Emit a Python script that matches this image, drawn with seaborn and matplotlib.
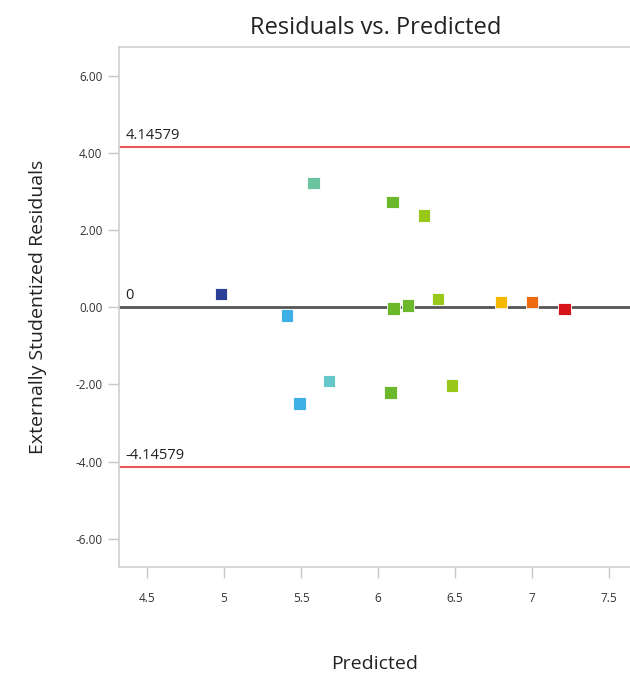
import matplotlib
matplotlib.use("Agg")
import matplotlib.pyplot as plt
import seaborn as sns
import pandas as pd

predicted = [4.98, 5.41, 5.49, 5.58, 5.68, 6.08, 6.095, 6.10, 6.195, 6.30, 6.39, 6.48, 6.80, 7.00, 7.21]
residuals = [0.35, -0.21, -2.49, 3.22, -1.91, -2.21, 2.73, -0.03, 0.05, 2.38, 0.22, -2.03, 0.13, 0.13, -0.05]
point_colors = ["#2B3F99", "#3FB0E6", "#3FB0E6", "#6CC3A0", "#66C8C8", "#6CB82C", "#6CB82C",
                "#6CB82C", "#6CB82C", "#99C71A", "#99C71A", "#99C71A", "#F5B800", "#EE6A10", "#D8141B"]
limit_value = 4.14579
y_ticks = [-6, -4, -2, 0, 2, 4, 6]
x_ticks = [4.5, 5, 5.5, 6, 6.5, 7, 7.5]

sns.set_style("white")
plt.rcParams['font.family'] = ['Open Sans', 'DejaVu Sans']

df = pd.DataFrame({"Predicted": predicted, "Residual": residuals,
                   "id": [str(i) for i in range(len(predicted))]})
palette = dict(zip(df["id"], point_colors))

fig = plt.figure(figsize=(6.3, 6.77), dpi=100)
ax = fig.add_axes([119/630, 1 - 567/677, 1 - 119/630, (567 - 47.5)/677])

ax.axhline(0, color="#555555", lw=2.0, zorder=1)
ax.axhline(limit_value, color="#E8595A", lw=1.5, zorder=1)
ax.axhline(-limit_value, color="#E8595A", lw=1.5, zorder=1)

sns.scatterplot(data=df, x="Predicted", y="Residual", hue="id", palette=palette,
                marker="s", s=80, edgecolor="white", linewidth=0.6, legend=False,
                ax=ax, zorder=3)

ax.set_xlim(4.318, 7.636)
ax.set_ylim(-6.73, 6.73)
ax.set_xticks(x_ticks)
ax.set_xticklabels(["4.5", "5", "5.5", "6", "6.5", "7", "7.5"])
ax.set_yticks(y_ticks)
ax.set_yticklabels([f"{v:.2f}" for v in y_ticks])

for side in ["left", "bottom", "top"]:
    ax.spines[side].set_color("#D0D0D0")
    ax.spines[side].set_linewidth(1.2)
ax.spines["right"].set_visible(False)

ax.tick_params(axis="both", which="both", direction="out", length=8, width=1,
               color="#C8C8C8", labelsize=8.5, labelcolor="#333333")
ax.tick_params(axis="y", pad=4)
ax.tick_params(axis="x", pad=10)
ax.yaxis.set_ticks_position("left")
ax.xaxis.set_ticks_position("bottom")

ax.text(4.36, limit_value + 0.12, "4.14579", fontsize=10.5, color="#222222", va="bottom", ha="left")
ax.text(4.36, -limit_value + 0.12, "-4.14579", fontsize=10.5, color="#222222", va="bottom", ha="left")
ax.text(4.36, 0.12, "0", fontsize=10.5, color="#222222", va="bottom", ha="left")

ax.set_xlabel("Predicted", fontsize=14, color="#222222", labelpad=36)
ax.set_ylabel("Externally Studentized Residuals", fontsize=14, color="#222222", labelpad=20)
fig.text(376/630, 1 - 28/677, "Residuals vs. Predicted", fontsize=17, color="#222222",
         ha="center", va="center")

fig.savefig("out.png", dpi=100, facecolor="white")
